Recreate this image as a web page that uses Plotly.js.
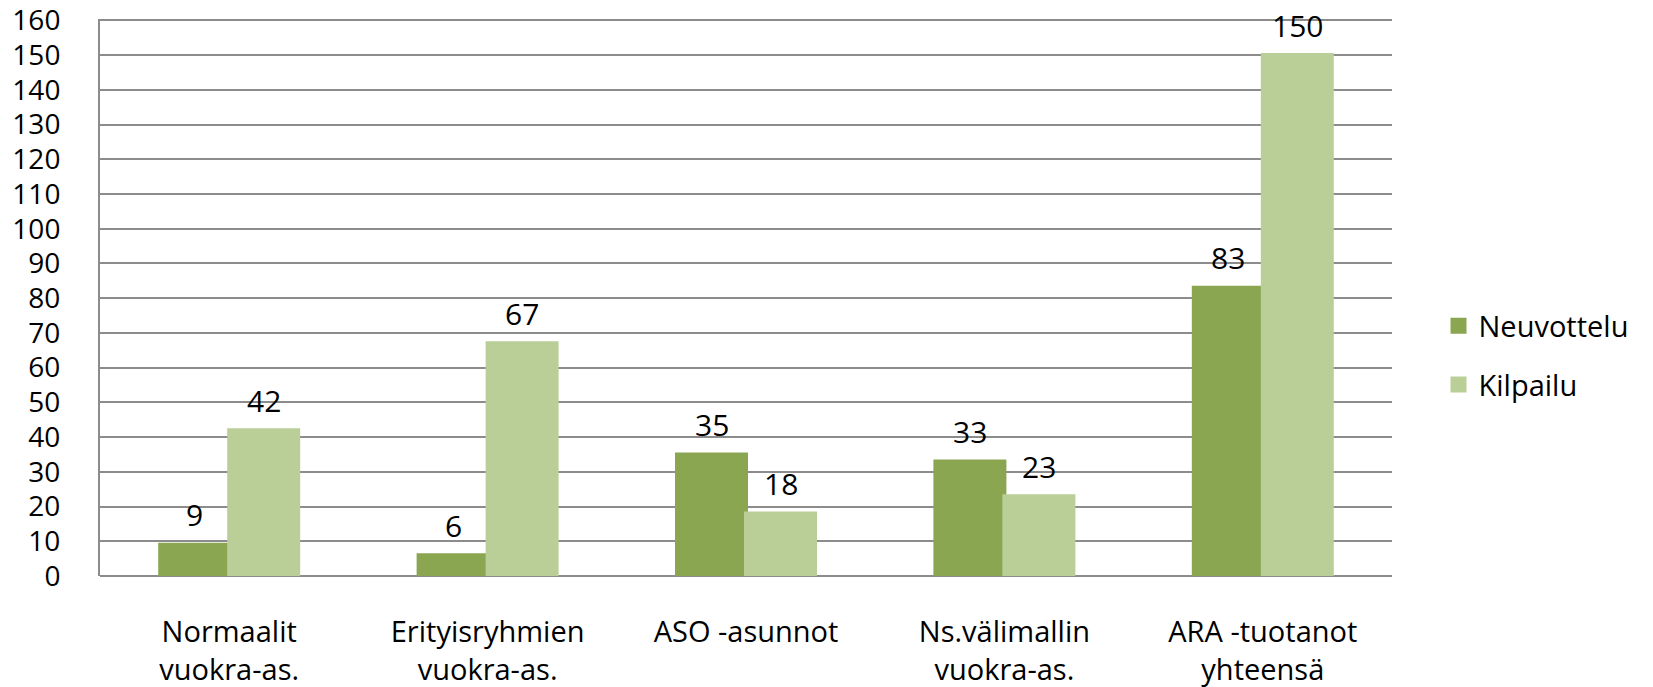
<!DOCTYPE html>
<html>
<head>
<meta charset="utf-8">
<script src="https://cdn.plot.ly/plotly-3.0.1.min.js"></script>
<style>html,body{margin:0;padding:0;background:#fff;}</style>
</head>
<body>
<div id="chart" style="width:1653px;height:687px;"></div>
<script>
const categories = ["Normaalit<br>vuokra-as.", "Erityisryhmien<br>vuokra-as.", "ASO -asunnot", "Ns.välimallin<br>vuokra-as.", "ARA -tuotanot<br>yhteensä"];
const neuvottelu = [9, 6, 35, 33, 83];
const kilpailu = [42, 67, 18, 23, 150];
const yTicks = [0, 10, 20, 30, 40, 50, 60, 70, 80, 90, 100, 110, 120, 130, 140, 150, 160];

const FONT = "Open Sans, Lato, DejaVu Sans, sans-serif";
const bargap = 0.466;
const half = (1 - bargap) / 4;
const idx = categories.map((c, i) => i);

const traces = [
  {type: "bar", name: "Neuvottelu", x: idx, y: neuvottelu, marker: {color: "#8BA651", line: {color: "#8BA651", width: 4}}, legendgroup: "a", hoverinfo: "y"},
  {type: "bar", name: "Kilpailu", x: idx, y: kilpailu, marker: {color: "#BACF98", line: {color: "#BACF98", width: 4}}, legendgroup: "b", hoverinfo: "y"}
];

const annotations = [];
neuvottelu.forEach((v, i) => annotations.push({x: i - half, y: v, xref: "x", yref: "y", text: String(v), showarrow: false, yanchor: "middle", yshift: 30, font: {family: FONT, size: 30, color: "#000"}}));
kilpailu.forEach((v, i) => annotations.push({x: i + half, y: v, xref: "x", yref: "y", text: String(v), showarrow: false, yanchor: "middle", yshift: 30, font: {family: FONT, size: 30, color: "#000"}}));

const layout = {
  width: 1653, height: 687,
  margin: {l: 100, r: 261, t: 19, b: 111, pad: 0},
  paper_bgcolor: "#fff", plot_bgcolor: "#fff",
  barmode: "group", bargap: bargap, bargroupgap: 0,
  font: {family: FONT, size: 29, color: "#000"},
  showlegend: true,
  legend: {x: 1.036, y: 0.396, xanchor: "left", yanchor: "middle", font: {family: FONT, size: 29, color: "#000"}, tracegroupgap: 18, bgcolor: "rgba(0,0,0,0)"},
  xaxis: {
    type: "linear", range: [-0.5, 4.5], tickmode: "array", tickvals: idx, ticktext: categories,
    showgrid: false, zeroline: false, showline: false, ticks: "",
    tickfont: {family: FONT, size: 29, color: "#000"}, ticklabelstandoff: 36, fixedrange: true
  },
  yaxis: {
    range: [0, 160.4], tickmode: "array", tickvals: yTicks, ticktext: yTicks.map(String),
    showgrid: true, gridcolor: "#8C8C8C", gridwidth: 2,
    zeroline: true, zerolinecolor: "#8C8C8C", zerolinewidth: 2,
    showline: true, linecolor: "#8C8C8C", linewidth: 2, ticks: "",
    tickfont: {family: FONT, size: 28, color: "#000"}, ticklabelstandoff: 32,
    ticklabeloverflow: "allow", fixedrange: true
  },
  annotations: annotations
};

Plotly.newPlot("chart", traces, layout, {displayModeBar: false, staticPlot: true});
</script>
</body>
</html>
